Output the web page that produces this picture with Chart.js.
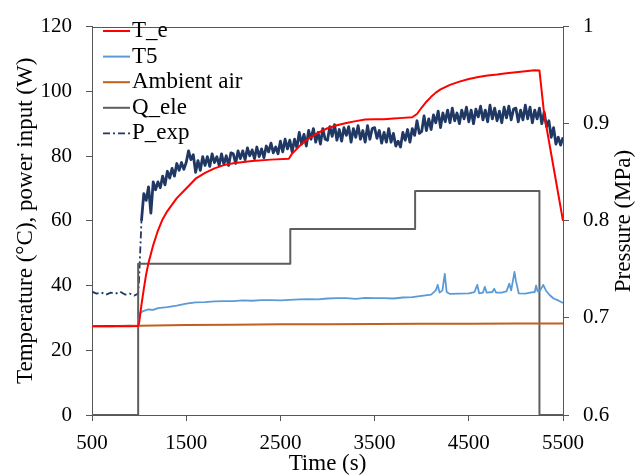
<!DOCTYPE html>
<html>
<head>
<meta charset="utf-8">
<script src="https://cdn.jsdelivr.net/npm/chart.js@4.4.0/dist/chart.umd.min.js"></script>
<style>
  body { margin: 0; background: #fff; }
  #wrap { width: 637px; height: 475px; position: relative; }
</style>
</head>
<body>
<div id="wrap"><canvas id="chart"></canvas></div>
<script>
// legend names, tick labels
const seriesNames = ['T_e', 'T5', 'Ambient air', 'Q_ele', 'P_exp'];
const timeTicks = [500, 1500, 2500, 3500, 4500, 5500];
const tempTicks = [0, 20, 40, 60, 80, 100, 120];
const pressTicks = [0.6, 0.7, 0.8, 0.9, 1];

// T_e (red)
const teTime = [500, 700, 900, 990, 1000, 1025, 1050, 1075, 1100, 1150, 1200, 1250, 1300, 1350, 1400, 1500,
  1600, 1700, 1800, 1900, 2000, 2200, 2400, 2590, 2620, 2700, 2800, 2900, 3000, 3100, 3200, 3300, 3400,
  3500, 3600, 3700, 3800, 3900, 3950, 4000, 4050, 4100, 4150, 4200, 4300, 4400, 4500, 4600, 4700, 4800,
  4900, 5000, 5100, 5200, 5250, 5300, 5500];
const teVal = [27.4, 27.5, 27.4, 27.5, 28.5, 34, 39, 43.5, 47, 52.5, 57, 60.5, 63, 65, 67, 70,
  73, 74.8, 76.2, 77.2, 77.8, 78.5, 78.9, 79.2, 80.6, 83, 85.5, 87.2, 88.6, 89.5, 90.2, 90.8, 91.3,
  91.4, 91.4, 91.6, 91.8, 92, 93, 95, 96.8, 98.3, 99.6, 100.6, 102, 103, 103.8, 104.4, 104.9, 105.2,
  105.6, 105.9, 106.2, 106.5, 106.4, 93, 60];

// T5 (light blue)
const t5Time = [500, 700, 900, 990, 1000, 1010, 1050, 1100, 1150, 1200, 1300, 1400, 1500, 1600, 1700, 1800,
  1900, 2000, 2100, 2200, 2300, 2400, 2500, 2600, 2700, 2800, 2900, 3000, 3100, 3200, 3300, 3400, 3500,
  3600, 3700, 3800, 3900, 4000, 4100, 4150, 4170, 4190, 4220, 4245, 4265, 4300, 4400, 4500, 4560, 4590,
  4610, 4650, 4670, 4690, 4750, 4770, 4790, 4850, 4900, 4930, 4950, 4985, 5000, 5030, 5100, 5150, 5200,
  5215, 5230, 5260, 5290, 5320, 5360, 5400, 5450, 5500];
const t5Val = [27.5, 27.4, 27.6, 27.4, 29.5, 31.5, 32.2, 32.6, 32.5, 33.0, 33.3, 33.8, 34.4, 34.8, 34.9, 35.1,
  35.2, 35.2, 35.4, 35.3, 35.5, 35.5, 35.4, 35.6, 35.7, 35.8, 35.7, 36.0, 36.1, 36.1, 35.9, 36.2, 36.1,
  36.1, 36.0, 36.3, 36.4, 36.8, 37.2, 38.5, 40.2, 37.8, 38.5, 43.6, 38.0, 37.4, 37.5, 37.6, 38.0, 40.2,
  37.6, 37.8, 39.6, 37.8, 38.0, 39.0, 37.8, 37.8, 38.2, 40.6, 38.5, 44.2, 41.5, 37.6, 37.5, 37.8, 38.0,
  40.0, 38.2, 38.6, 40.2, 38.4, 37.0, 36.0, 35.4, 34.6];

// Ambient air (brown)
const ambTime = [500, 1000, 1500, 2000, 2500, 3000, 3500, 4000, 4500, 5000, 5500];
const ambVal = [27.4, 27.6, 27.8, 27.9, 28.0, 28.0, 28.1, 28.2, 28.2, 28.3, 28.3];

// Q_ele (grey steps)
const qTime = [500, 990, 990, 2605, 2605, 3930, 3930, 5250, 5250, 5500];
const qVal = [0, 0, 46.7, 46.7, 57.5, 57.5, 69.2, 69.2, 0, 0];

// P_exp (navy, right axis)
const pTime = [500, 550, 600, 650, 700, 750, 800, 850, 900, 950, 990,
  1000, 1025, 1050, 1075, 1100, 1125, 1150, 1175, 1200, 1225, 1250, 1275, 1300, 1325, 1350, 1375, 1400, 1425, 1450, 1475,
  1500, 1525, 1550, 1575, 1600, 1625, 1650, 1675, 1700, 1725, 1750, 1775, 1800, 1825, 1850, 1875, 1900, 1925, 1950, 1975,
  2000, 2025, 2050, 2075, 2100, 2125, 2150, 2175, 2200, 2225, 2250, 2275, 2300, 2325, 2350, 2375, 2400, 2425, 2450, 2475,
  2500, 2525, 2550, 2575, 2600, 2625, 2650, 2675, 2700, 2725, 2750, 2775, 2800, 2825, 2850, 2875, 2900, 2925, 2950, 2975,
  3000, 3025, 3050, 3075, 3100, 3125, 3150, 3175, 3200, 3225, 3250, 3275, 3300, 3325, 3350, 3375, 3400, 3425, 3450, 3475,
  3500, 3525, 3550, 3575, 3600, 3625, 3650, 3675, 3700, 3725, 3750, 3775, 3800, 3825, 3850, 3875, 3900, 3925, 3950, 3975,
  4000, 4025, 4050, 4075, 4100, 4125, 4150, 4175, 4200, 4225, 4250, 4275, 4300, 4325, 4350, 4375, 4400, 4425, 4450, 4475,
  4500, 4525, 4550, 4575, 4600, 4625, 4650, 4675, 4700, 4725, 4750, 4775, 4800, 4825, 4850, 4875, 4900, 4925, 4950, 4975,
  5000, 5025, 5050, 5075, 5100, 5125, 5150, 5175, 5200, 5225, 5250, 5275, 5300, 5325, 5350, 5375, 5400, 5425, 5450, 5475,
  5500];
const pVal = [0.727, 0.725, 0.726, 0.724, 0.726, 0.725, 0.727, 0.724, 0.725, 0.723, 0.725,
  0.740, 0.800, 0.828, 0.821, 0.835, 0.808, 0.840, 0.832, 0.840, 0.834, 0.846, 0.837, 0.851, 0.844, 0.854, 0.846, 0.859, 0.852, 0.860, 0.853,
  0.860, 0.872, 0.863, 0.868, 0.850, 0.862, 0.852, 0.866, 0.857, 0.866, 0.856, 0.869, 0.860, 0.866, 0.857, 0.869, 0.858, 0.867, 0.857, 0.870,
  0.869, 0.859, 0.872, 0.864, 0.872, 0.863, 0.875, 0.867, 0.873, 0.864, 0.876, 0.866, 0.874, 0.865, 0.877, 0.871, 0.880, 0.870, 0.876, 0.869,
  0.882, 0.871, 0.884, 0.874, 0.883, 0.871, 0.884, 0.875, 0.891, 0.879, 0.889, 0.877, 0.893, 0.884, 0.895, 0.881, 0.891, 0.879, 0.895, 0.884,
  0.883, 0.897, 0.887, 0.899, 0.883, 0.894, 0.882, 0.896, 0.888, 0.897, 0.881, 0.895, 0.886, 0.898, 0.884, 0.893, 0.881, 0.898, 0.884, 0.895,
  0.896, 0.885, 0.893, 0.880, 0.891, 0.881, 0.895, 0.881, 0.890, 0.877, 0.882, 0.876, 0.891, 0.883, 0.894, 0.881, 0.895, 0.888, 0.903, 0.890,
  0.892, 0.908, 0.893, 0.905, 0.894, 0.909, 0.901, 0.913, 0.896, 0.911, 0.902, 0.914, 0.901, 0.916, 0.903, 0.911, 0.900, 0.914, 0.905, 0.917,
  0.902, 0.914, 0.900, 0.915, 0.907, 0.918, 0.904, 0.914, 0.902, 0.919, 0.905, 0.916, 0.903, 0.913, 0.901, 0.917, 0.906, 0.918, 0.904, 0.915,
  0.916, 0.902, 0.914, 0.904, 0.919, 0.905, 0.917, 0.901, 0.914, 0.905, 0.916, 0.900, 0.912, 0.897, 0.903, 0.886, 0.896, 0.879, 0.886, 0.878,
  0.886];

const serif = '"Liberation Serif", "Times New Roman", serif';
const axisColor = '#575757';
const colors = ['#ff0000', '#5b9bd5', '#c0601e', '#5e5e5e', '#203864'];
const widths = [2, 1.8, 2, 2, 2.8];
const pDash = [7, 3, 2, 3];

function pts(xs, ys) {
  return xs.map((x, i) => ({ x: x, y: ys[i] }));
}

// top frame line, legend box and right axis title
const extras = {
  id: 'extras',
  beforeDatasetsDraw(chart) {
    const ctx = chart.ctx, a = chart.chartArea;
    ctx.save();
    ctx.strokeStyle = axisColor;
    ctx.lineWidth = 1;
    ctx.beginPath();
    ctx.moveTo(a.left, Math.round(a.top) + 0.5);
    ctx.lineTo(a.right, Math.round(a.top) + 0.5);
    ctx.stroke();
    ctx.restore();
  },
  afterDraw(chart) {
    const ctx = chart.ctx;
    ctx.save();
    ctx.font = '23px ' + serif;
    ctx.textBaseline = 'middle';
    ctx.fillStyle = '#000';
    seriesNames.forEach((name, i) => {
      const y = 31 + i * 25.6;
      ctx.strokeStyle = colors[i];
      ctx.lineWidth = i === 4 ? 1.8 : 2;
      ctx.setLineDash(i === 4 ? pDash : []);
      ctx.beginPath();
      ctx.moveTo(103, y);
      ctx.lineTo(130, y);
      ctx.stroke();
      ctx.fillText(name, 132, y);
    });
    ctx.setLineDash([]);
    // right title reads bottom to top like the left one
    ctx.translate(623.5, 221);
    ctx.rotate(-Math.PI / 2);
    ctx.textAlign = 'center';
    ctx.fillText('Pressure (MPa)', 0, 0);
    ctx.restore();
  }
};

const ctx = document.getElementById('chart').getContext('2d');
const chart = new Chart(ctx, {
  type: 'line',
  data: {
    datasets: [
      { label: seriesNames[0], data: pts(teTime, teVal), yAxisID: 'y' },
      { label: seriesNames[1], data: pts(t5Time, t5Val), yAxisID: 'y' },
      { label: seriesNames[2], data: pts(ambTime, ambVal), yAxisID: 'y' },
      { label: seriesNames[3], data: pts(qTime, qVal), yAxisID: 'y' },
      {
        label: seriesNames[4], data: pts(pTime, pVal), yAxisID: 'y2',
        segment: {
          borderDash: c => c.p0.parsed.x < 1025 ? pDash : undefined,
          borderWidth: c => c.p0.parsed.x < 1025 ? 1.8 : undefined
        }
      }
    ].map((d, i) => Object.assign(d, {
      borderColor: colors[i],
      borderWidth: widths[i],
      borderJoinStyle: 'round',
      pointRadius: 0,
      tension: 0,
      fill: false
    }))
  },
  options: {
    responsive: true,
    maintainAspectRatio: false,
    animation: false,
    layout: { padding: { top: 19, left: 0, right: 0, bottom: 0 } },
    plugins: { legend: { display: false }, tooltip: { enabled: false } },
    scales: {
      x: {
        type: 'linear',
        position: 'bottom',
        min: 500,
        max: 5500,
        afterBuildTicks: s => { s.ticks = timeTicks.map(v => ({ value: v })); },
        afterFit: s => { s.height = 60; },
        grid: { drawOnChartArea: false, tickLength: 6, color: axisColor },
        border: { color: axisColor },
        ticks: { font: { family: serif, size: 21 }, color: '#000', padding: 10, maxRotation: 0, callback: v => String(v) },
        title: { display: true, text: 'Time (s)', font: { family: serif, size: 23, lineHeight: 1 }, color: '#000', padding: { top: 0, bottom: 0 } }
      },
      y: {
        position: 'left',
        min: 0,
        max: 120,
        afterBuildTicks: s => { s.ticks = tempTicks.map(v => ({ value: v })); },
        afterFit: s => { s.width = 92; },
        grid: { drawOnChartArea: false, tickLength: 6, color: axisColor },
        border: { color: axisColor },
        ticks: { font: { family: serif, size: 21 }, color: '#000', padding: 14 },
        title: { display: true, text: 'Temperature (°C), power input (W)', font: { family: serif, size: 23 }, color: '#000', padding: { top: 12, bottom: 0 } }
      },
      y2: {
        position: 'right',
        min: 0.6,
        max: 1,
        afterBuildTicks: s => { s.ticks = pressTicks.map(v => ({ value: v })); },
        afterFit: s => { s.width = 74; },
        grid: { drawOnChartArea: false, tickLength: 6, color: axisColor },
        border: { color: axisColor },
        ticks: { font: { family: serif, size: 21 }, color: '#000', padding: 14, callback: v => String(+v.toFixed(1)) }
      }
    }
  },
  plugins: [extras]
});
</script>
</body>
</html>
